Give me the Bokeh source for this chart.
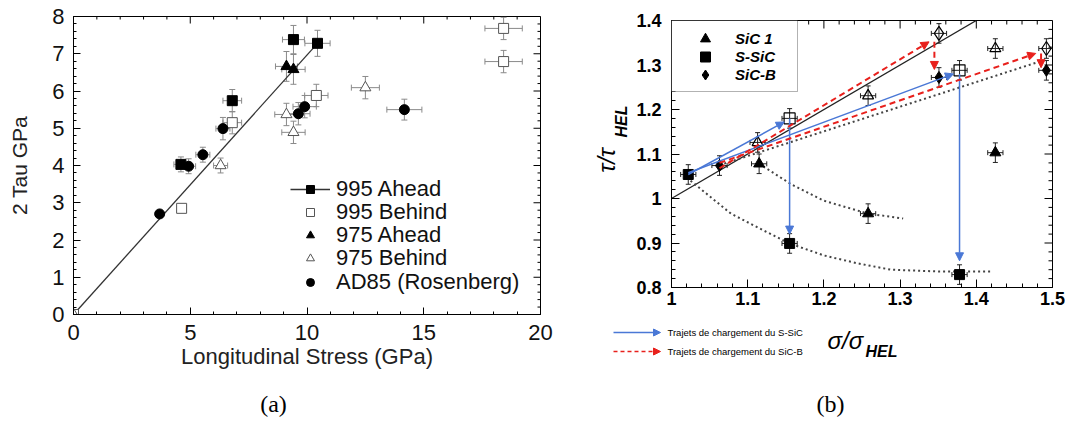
import numpy as np
from bokeh.plotting import figure
from bokeh.models import (Range1d, SingleIntervalTicker, FixedTicker, Whisker, TeeHead,
                          ColumnDataSource, Legend, LegendItem, Arrow, NormalHead, BoxAnnotation)
from bokeh.layouts import row, column
from bokeh.embed import file_html
from bokeh.resources import INLINE
from bokeh.core.properties import value

FONT = "Liberation Sans"
SERIF = "Liberation Serif"
BLUE = "#4a78d6"
RED = "#e8201c"

# ---------------- Panel (a) data ----------------
a_fit_x = [0, 10.45]
a_fit_y = [0, 7.28]

a_ahead995_x = [0, 4.6, 6.8, 9.42, 10.45]
a_ahead995_y = [0, 4.03, 5.74, 7.38, 7.28]
a_ahead995_xerr = [0, 0.3, 0.4, 0.47, 0.54]
a_ahead995_yerr = [0, 0.2, 0.3, 0.38, 0.35]

a_behind995_x = [0, 4.63, 6.8, 10.4, 18.42, 18.42]
a_behind995_y = [0, 2.85, 5.15, 5.88, 6.79, 7.68]
a_behind995_xerr = [0, 0, 0.4, 0.5, 0.8, 0.8]
a_behind995_yerr = [0, 0, 0.3, 0.3, 0.3, 0.3]

a_ahead975_x = [9.12, 9.42]
a_ahead975_y = [6.66, 6.58]
a_ahead975_xerr = [0.47, 0.5]
a_ahead975_yerr = [0.4, 0.4]

a_behind975_x = [0, 6.3, 9.12, 9.42, 12.5]
a_behind975_y = [0, 4.0, 5.37, 4.89, 6.09]
a_behind975_xerr = [0, 0.3, 0.5, 0.5, 0.6]
a_behind975_yerr = [0, 0.2, 0.3, 0.3, 0.3]

a_ad85_x = [3.69, 4.93, 5.54, 6.4, 9.63, 9.9, 14.17]
a_ad85_y = [2.7, 3.98, 4.29, 4.99, 5.39, 5.58, 5.5]
a_ad85_xerr = [0, 0.3, 0.3, 0.3, 0.5, 0.5, 0.75]
a_ad85_yerr = [0, 0.2, 0.2, 0.3, 0.3, 0.3, 0.28]

a_legend_labels = ["995 Ahead", "995 Behind", "975 Ahead", "975 Behind", "AD85 (Rosenberg)"]
a_xmajor = [0, 5, 10, 15, 20]
a_ymajor = [0, 1, 2, 3, 4, 5, 6, 7, 8]

# ---------------- Panel (b) data ----------------
b_sic1_x = [1.115, 1.258, 1.425]
b_sic1_y = [1.078, 0.966, 1.103]
b_sic1_open_x = [1.113, 1.258, 1.425]
b_sic1_open_y = [1.126, 1.231, 1.337]

b_ssic_x = [1.022, 1.155, 1.378]
b_ssic_y = [1.054, 0.899, 0.829]
b_ssic_open_x = [1.155, 1.378]
b_ssic_open_y = [1.18, 1.288]

b_sicb_x = [1.063, 1.351, 1.492]
b_sicb_y = [1.074, 1.272, 1.288]
b_sicb_open_x = [1.351, 1.492]
b_sicb_open_y = [1.371, 1.337]

b_xerr = 0.01
b_yerr = 0.022

b_ref_x = [1.0, 1.4]
b_ref_y = [1.0, 1.4]
b_dot_x = [1.063, 1.48]
b_dot_y = [1.075, 1.306]
b_curve_ssic_x = [1.025, 1.078, 1.121, 1.155, 1.2, 1.245, 1.288, 1.35, 1.42]
b_curve_ssic_y = [1.04, 0.966, 0.928, 0.899, 0.872, 0.854, 0.840, 0.836, 0.836]
b_curve_sic1_x = [1.115, 1.157, 1.2, 1.258, 1.304]
b_curve_sic1_y = [1.078, 1.032, 0.995, 0.966, 0.955]

b_blue_x0 = [1.022, 1.022, 1.155, 1.378]
b_blue_y0 = [1.054, 1.058, 1.18, 1.28]
b_blue_x1 = [1.148, 1.37, 1.155, 1.378]
b_blue_y1 = [1.172, 1.28, 0.92, 0.86]

b_red_x0 = [1.063, 1.345, 1.063, 1.485]
b_red_y0 = [1.068, 1.352, 1.08, 1.326]
b_red_x1 = [1.338, 1.345, 1.478, 1.485]
b_red_y1 = [1.352, 1.29, 1.326, 1.294]

b_legend_labels = ["SiC 1", "S-SiC", "SiC-B"]
b_path_labels = ["Trajets de chargement du S-SiC", "Trajets de chargement du SiC-B"]

b_xticks = [1.0, 1.1, 1.2, 1.3, 1.4, 1.5]
b_yticks = [0.8, 0.9, 1.0, 1.1, 1.2, 1.3, 1.4]

# ---------------- helpers ----------------
def style_axis(ax, size, style="normal", tin=7, tmin=3, standoff=8, color="black"):
    ax.axis_line_color = "black"
    ax.axis_line_width = 1
    ax.major_tick_in = tin
    ax.major_tick_out = 0
    ax.minor_tick_in = tmin
    ax.minor_tick_out = 0
    ax.major_tick_line_color = "black"
    ax.minor_tick_line_color = "black"
    ax.major_label_text_font = FONT
    ax.major_label_text_font_style = style
    ax.major_label_text_color = color
    ax.major_label_text_font_size = size
    ax.major_label_standoff = standoff


def mirror_ticks(p, xmaj, xmin_, ymaj, ymin_, xr, yr, fw, fh, lmaj, lmin):
    # tick marks on the top and right edges of the frame (pointing inwards)
    dy_maj = lmaj * (yr[1] - yr[0]) / fh
    dy_min = lmin * (yr[1] - yr[0]) / fh
    dx_maj = lmaj * (xr[1] - xr[0]) / fw
    dx_min = lmin * (xr[1] - xr[0]) / fw
    x0, y0, x1, y1 = [], [], [], []
    for t in xmaj:
        x0.append(t); x1.append(t); y0.append(yr[1]); y1.append(yr[1] - dy_maj)
    for t in xmin_:
        x0.append(t); x1.append(t); y0.append(yr[1]); y1.append(yr[1] - dy_min)
    for t in ymaj:
        y0.append(t); y1.append(t); x0.append(xr[1]); x1.append(xr[1] - dx_maj)
    for t in ymin_:
        y0.append(t); y1.append(t); x0.append(xr[1]); x1.append(xr[1] - dx_min)
    p.segment(x0, y0, x1, y1, line_color="black", line_width=1)


def whiskers(p, xs, ys, xe, ye, color, head):
    keep = [i for i in range(len(xs)) if xe[i] > 0 or ye[i] > 0]
    src = ColumnDataSource(dict(
        x=[xs[i] for i in keep], y=[ys[i] for i in keep],
        xl=[xs[i] - xe[i] for i in keep], xu=[xs[i] + xe[i] for i in keep],
        yl=[ys[i] - ye[i] for i in keep], yu=[ys[i] + ye[i] for i in keep]))
    for dim, base, lo, up in (("height", "x", "yl", "yu"), ("width", "y", "xl", "xu")):
        p.add_layout(Whisker(source=src, base=base, lower=lo, upper=up, dimension=dim,
                             line_color=color, line_width=1,
                             lower_head=TeeHead(size=head, line_color=color, line_width=1),
                             upper_head=TeeHead(size=head, line_color=color, line_width=1)))


def blank(w, h):
    f = figure(width=w, height=h, x_range=Range1d(0, w), y_range=Range1d(0, h),
               output_backend="svg", toolbar_location=None, min_border=0, title=None,
               x_axis_location=None, y_axis_location=None, frame_align=False)
    f.grid.visible = False
    f.outline_line_color = None
    return f


# ---------------- Panel (a) ----------------
A_L, A_T, A_FW, A_FH, A_R, A_B = 73, 16, 467, 298, 23, 60
WA = A_L + A_FW + A_R
HA = A_T + A_FH + A_B
pa = figure(width=WA, height=HA, x_range=Range1d(0, 20), y_range=Range1d(0, 8),
            output_backend="svg", toolbar_location=None, title=None, frame_align=False,
            min_border_left=A_L, min_border_right=A_R, min_border_top=A_T, min_border_bottom=A_B)
pa.grid.visible = False
pa.outline_line_color = "black"

xa = pa.xaxis[0]
ya = pa.yaxis[0]
xa.ticker = SingleIntervalTicker(interval=5, num_minor_ticks=5)
ya.ticker = SingleIntervalTicker(interval=1, num_minor_ticks=5)
style_axis(xa, "22px", standoff=10, color="#111111")
style_axis(ya, "22px", standoff=9, color="#111111")
xa.axis_label = "Longitudinal Stress (GPa)"
xa.axis_label_text_font = FONT
xa.axis_label_text_font_style = "normal"
xa.axis_label_text_font_size = "22px"
xa.axis_label_text_color = "#222222"
xa.axis_label_standoff = 1
ya.axis_label = "2 Tau GPa"
ya.axis_label_text_font = FONT
ya.axis_label_text_font_style = "normal"
ya.axis_label_text_font_size = "21px"
ya.axis_label_text_color = "#222222"
ya.axis_label_standoff = 18

a_xminor = [i for i in range(21) if i % 5 != 0]
a_yminor = [round(0.2 * i, 1) for i in range(41) if i % 5 != 0]
mirror_ticks(pa, a_xmajor, a_xminor, a_ymajor, a_yminor, (0, 20), (0, 8), A_FW, A_FH, 7, 3)

ECOL = "#8a8a8a"
whiskers(pa, a_ahead995_x, a_ahead995_y, a_ahead995_xerr, a_ahead995_yerr, ECOL, 6)
whiskers(pa, a_behind995_x, a_behind995_y, a_behind995_xerr, a_behind995_yerr, ECOL, 6)
whiskers(pa, a_ahead975_x, a_ahead975_y, a_ahead975_xerr, a_ahead975_yerr, ECOL, 6)
whiskers(pa, a_behind975_x, a_behind975_y, a_behind975_xerr, a_behind975_yerr, ECOL, 6)
whiskers(pa, a_ad85_x, a_ad85_y, a_ad85_xerr, a_ad85_yerr, ECOL, 6)

fit_r = pa.line(a_fit_x, a_fit_y, line_color="#333333", line_width=1.3)
r_sq = pa.scatter(a_ahead995_x, a_ahead995_y, marker="square", size=10,
                  fill_color="black", line_color="black")
r_osq = pa.scatter(a_behind995_x, a_behind995_y, marker="square", size=10,
                   fill_color="white", line_color="#555555", line_width=1)
r_tri = pa.scatter(a_ahead975_x, a_ahead975_y, marker="triangle", size=11,
                   fill_color="black", line_color="black")
r_otri = pa.scatter(a_behind975_x, a_behind975_y, marker="triangle", size=11,
                    fill_color="white", line_color="#555555", line_width=1)
r_circ = pa.scatter(a_ad85_x, a_ad85_y, marker="circle", size=10,
                    fill_color="black", line_color="black")

# one legend per row, so the rows sit 23 px apart as in the reference
a_leg_renderers = [[fit_r, r_sq], [r_osq], [r_tri], [r_otri], [r_circ]]
a_leg_rows_y = [112, 89, 66, 43, 19]
for lab, rends, ly in zip(a_legend_labels, a_leg_renderers, a_leg_rows_y):
    pa.add_layout(Legend(items=[LegendItem(label=lab, renderers=rends)],
                         location=(217, ly), margin=0, padding=0, glyph_width=40, glyph_height=20,
                         label_height=20, spacing=0, label_standoff=6, border_line_color=None,
                         background_fill_alpha=0, label_text_font=FONT,
                         label_text_font_size="22px", label_text_color="#111111"))

cap_a = blank(WA, 425 - HA)
cap_a.text(x=[273], y=[22], text=["(a)"], text_font=value(SERIF), text_font_size="24px",
           text_align="center", text_baseline="middle", text_color="black")

# ---------------- Panel (b) ----------------
YLW = 70                     # width of the strip holding the rotated y title
B_L, B_T, B_FW, B_FH, B_B = 38, 20, 381, 267, 26
WB = 1065 - WA - YLW
B_R = WB - B_L - B_FW
HB = B_T + B_FH + B_B
pb = figure(width=WB, height=HB, x_range=Range1d(1, 1.5), y_range=Range1d(0.8, 1.4),
            output_backend="svg", toolbar_location=None, title=None, frame_align=False,
            min_border_left=B_L, min_border_right=B_R, min_border_top=B_T, min_border_bottom=B_B)
pb.grid.visible = False
pb.outline_line_color = "black"

b_xminor = [round(1.0 + 0.02 * i, 2) for i in range(26) if i % 5 != 0]
b_yminor = [round(0.8 + 0.02 * i, 2) for i in range(31) if i % 5 != 0]
xb = pb.xaxis[0]
yb = pb.yaxis[0]
xb.ticker = FixedTicker(ticks=b_xticks, minor_ticks=b_xminor)
yb.ticker = FixedTicker(ticks=b_yticks, minor_ticks=b_yminor)
style_axis(xb, "18px", style="bold", tin=8, tmin=4, standoff=4)
style_axis(yb, "18px", style="bold", tin=8, tmin=4, standoff=10)
xb.major_label_overrides = {1: "1"}
yb.major_label_overrides = {1: "1"}
mirror_ticks(pb, b_xticks, b_xminor, b_yticks, b_yminor, (1, 1.5), (0.8, 1.4), B_FW, B_FH, 8, 4)

for xs, ys in ((b_sic1_x, b_sic1_y), (b_sic1_open_x, b_sic1_open_y), (b_ssic_x, b_ssic_y),
               (b_ssic_open_x, b_ssic_open_y), (b_sicb_x, b_sicb_y), (b_sicb_open_x, b_sicb_open_y)):
    whiskers(pb, xs, ys, [b_xerr] * len(xs), [b_yerr] * len(xs), "#222222", 5)

pb.line(b_ref_x, b_ref_y, line_color="#222222", line_width=1.3)
pb.line(b_dot_x, b_dot_y, line_color="#444444", line_width=2, line_dash="2 3")
pb.line(b_curve_ssic_x, b_curve_ssic_y, line_color="#444444", line_width=2, line_dash="2 3")
pb.line(b_curve_sic1_x, b_curve_sic1_y, line_color="#444444", line_width=2, line_dash="2 3")

r_b_tri = pb.scatter(b_sic1_x, b_sic1_y, marker="triangle", size=11, fill_color="black", line_color="black")
pb.scatter(b_sic1_open_x, b_sic1_open_y, marker="triangle", size=11, fill_alpha=0, line_color="black", line_width=1.2)
r_b_sq = pb.scatter(b_ssic_x, b_ssic_y, marker="square", size=10, fill_color="black", line_color="black")
pb.scatter(b_ssic_open_x, b_ssic_open_y, marker="square", size=11, fill_alpha=0, line_color="black", line_width=1.2)
r_b_dia = pb.scatter(b_sicb_x, b_sicb_y, marker="diamond", size=12, fill_color="black", line_color="black")
pb.scatter(b_sicb_open_x, b_sicb_open_y, marker="diamond", size=14, fill_alpha=0, line_color="black", line_width=1.2)

blue_src = ColumnDataSource(dict(x0=b_blue_x0, y0=b_blue_y0, x1=b_blue_x1, y1=b_blue_y1))
pb.add_layout(Arrow(source=blue_src, x_start="x0", y_start="y0", x_end="x1", y_end="y1",
                    line_color=BLUE, line_width=1.5,
                    end=NormalHead(size=8, fill_color=BLUE, line_color=BLUE)))
red_src = ColumnDataSource(dict(x0=b_red_x0, y0=b_red_y0, x1=b_red_x1, y1=b_red_y1))
pb.add_layout(Arrow(source=red_src, x_start="x0", y_start="y0", x_end="x1", y_end="y1",
                    line_color=RED, line_width=2, line_dash="6 4",
                    end=NormalHead(size=8, fill_color=RED, line_color=RED)))

# legend box (top-left corner of the frame) and one legend row per series
LB_W, LB_H = 126, 71
pb.add_layout(BoxAnnotation(left=1.0, right=1.0 + LB_W * 0.5 / B_FW,
                            top=1.4, bottom=1.4 - LB_H * 0.6 / B_FH,
                            fill_color="white", fill_alpha=1, line_color="black", line_width=1))
b_leg_renderers = [r_b_tri, r_b_sq, r_b_dia]
b_leg_rows_y = [236, 218, 200]
for lab, rend, ly in zip(b_legend_labels, b_leg_renderers, b_leg_rows_y):
    pb.add_layout(Legend(items=[LegendItem(label=lab, renderers=[rend])],
                         location=(9, ly), margin=0, padding=0, glyph_width=50, glyph_height=25,
                         label_height=25, spacing=0, label_standoff=5, border_line_color=None,
                         background_fill_alpha=0, label_text_font=FONT,
                         label_text_font_style="bold italic", label_text_font_size="15px",
                         label_text_color="black"))

# rotated y title strip (tau / tau_HEL)
ylab = blank(YLW, HB)
ylab.text(x=[43], y=[HB - 160], text=["τ/τ"], angle=np.pi / 2, text_font=value(FONT),
          text_font_style="italic", text_font_size="24px", text_align="center",
          text_baseline="middle", text_color="black")
ylab.text(x=[58], y=[HB - 121], text=["HEL"], angle=np.pi / 2, text_font=value(FONT),
          text_font_style="bold italic", text_font_size="16px", text_align="center",
          text_baseline="middle", text_color="black")

# strip below panel (b): loading-path key, x title, caption
HBB = 425 - HB
WBB = YLW + WB
bot = blank(WBB, HBB)
bot.add_layout(Arrow(x_start=50, y_start=425 - 332, x_end=97, y_end=425 - 332,
                     line_color=BLUE, line_width=1.5,
                     end=NormalHead(size=7, fill_color=BLUE, line_color=BLUE)))
bot.add_layout(Arrow(x_start=50, y_start=425 - 351, x_end=97, y_end=425 - 351,
                     line_color=RED, line_width=1.5, line_dash="4 3",
                     end=NormalHead(size=7, fill_color=RED, line_color=RED)))
bot.text(x=[104, 104], y=[425 - 332, 425 - 351], text=b_path_labels, text_font=value(FONT),
         text_font_size="9.5px", text_align="left", text_baseline="middle", text_color="black")
bot.text(x=[264], y=[425 - 340], text=["σ/σ"], text_font=value(FONT), text_font_style="italic",
         text_font_size="24px", text_align="left", text_baseline="alphabetic", text_color="black")
bot.text(x=[302], y=[425 - 351], text=["HEL"], text_font=value(FONT), text_font_style="bold italic",
         text_font_size="16px", text_align="left", text_baseline="alphabetic", text_color="black")
bot.text(x=[267], y=[425 - 403], text=["(b)"], text_font=value(SERIF), text_font_size="24px",
         text_align="center", text_baseline="middle", text_color="black")

layout = row(column(pa, cap_a), column(row(ylab, pb), bot))
open("out.html", "w").write(file_html(layout, INLINE))
